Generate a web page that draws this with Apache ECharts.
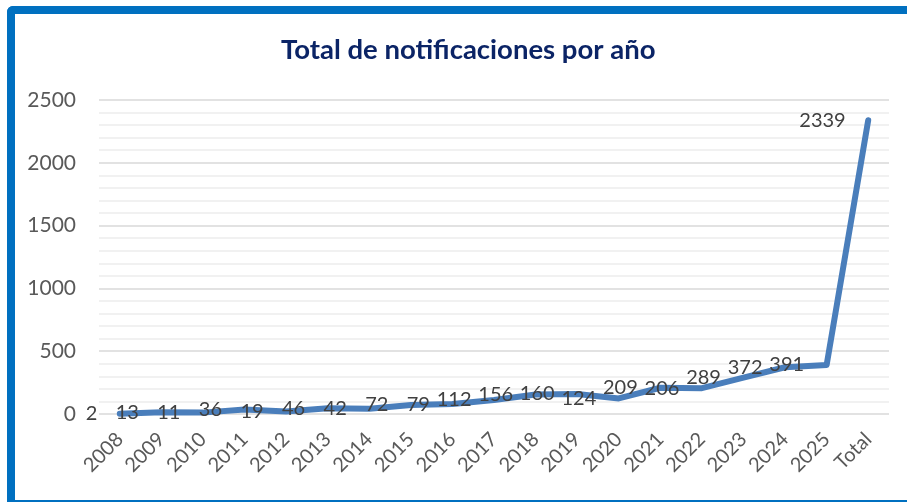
<!DOCTYPE html>
<html>
<head>
<meta charset="utf-8">
<script src="https://cdn.jsdelivr.net/npm/echarts@6/dist/echarts.min.js"></script>
<style>
  html, body { margin: 0; padding: 0; background: #fff; }
  #wrap { position: relative; width: 907px; height: 502px; overflow: hidden; }
  #chart { position: absolute; left: 0; top: 0; width: 907px; height: 502px; }
  #frame {
    position: absolute; left: 7px; top: 6px; width: 920px; height: 486px;
    border-left: 8px solid #0070c0; border-top: 8px solid #0070c0;
    border-bottom: 3px solid #0070c0; border-radius: 6px 0 0 0;
    pointer-events: none;
  }
</style>
</head>
<body>
<div id="wrap">
  <div id="chart"></div>
  <div id="frame"></div>
</div>
<script>
const categories = ['2008', '2009', '2010', '2011', '2012', '2013', '2014', '2015', '2016',
  '2017', '2018', '2019', '2020', '2021', '2022', '2023', '2024', '2025', 'Total']
const values = [2, 13, 11, 36, 19, 46, 42, 72, 79, 112, 156, 160, 124, 209, 206, 289, 372, 391, 2339]
const titleText = 'Total de notificaciones por año'

const font = 'Lato, Liberation Sans, sans-serif'

const chart = echarts.init(document.getElementById('chart'), null, { renderer: 'canvas' })

chart.setOption({
  animation: false,
  backgroundColor: '#fff',
  title: {
    text: titleText,
    left: 276,
    top: 31,
    textStyle: { fontFamily: font, fontSize: 27.5, fontWeight: 'bold', color: '#0b2466' }
  },
  grid: { left: 99, right: 18, top: 100, bottom: 88 },
  xAxis: {
    type: 'category',
    data: categories,
    boundaryGap: true,
    axisLine: { show: false },
    axisTick: { show: false },
    axisLabel: {
      rotate: 45,
      margin: 22,
      interval: 0,
      fontFamily: font,
      fontSize: 20,
      color: '#595959'
    }
  },
  yAxis: {
    type: 'value',
    min: 0,
    max: 2500,
    interval: 500,
    axisLine: { show: false },
    axisTick: { show: false },
    axisLabel: {
      margin: 23,
      fontFamily: font,
      fontSize: 21,
      color: '#595959',
      formatter: v => String(v)
    },
    splitLine: { lineStyle: { color: '#d9d9d9', width: 1.5 } },
    minorTick: { show: false, splitNumber: 5 },
    minorSplitLine: { show: true, lineStyle: { color: '#ededed', width: 1.5 } }
  },
  series: [{
    type: 'line',
    data: values,
    showSymbol: true,
    symbol: 'circle',
    symbolSize: 1,
    itemStyle: { color: 'rgba(0,0,0,0)' },
    lineStyle: { color: '#4a7ebb', width: 6, cap: 'round', join: 'round' },
    label: {
      show: true,
      position: 'left',
      distance: 22,
      fontFamily: font,
      fontSize: 20,
      color: '#404040'
    }
  }]
})
</script>
</body>
</html>
